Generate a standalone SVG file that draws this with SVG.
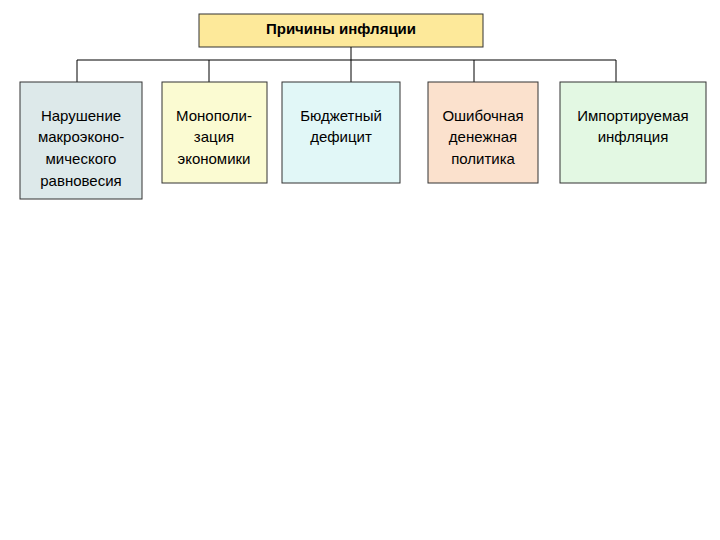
<svg xmlns="http://www.w3.org/2000/svg" width="720" height="540" viewBox="0 0 720 540">
<style>
.b{stroke:#333;stroke-width:1}
text{font-family:"Liberation Sans",Arial,sans-serif;font-size:15px;fill:#000;text-anchor:middle}
.c{stroke:#000;stroke-width:1;fill:none}
</style>
<rect width="720" height="540" fill="#fff"/>
<g id="title"><rect class="b" x="199" y="14" width="284" height="33" fill="#fde99a"/><text x="341" y="34" font-weight="bold">Причины инфляции</text></g>
<g id="connectors">
<path class="c" d="M351 47V60M77 60H616M77 60V82M209 60V82M351 60V82M474 60V82M616 60V82"/>
</g>
<g id="n1"><rect class="b" x="20" y="82" width="122" height="117" fill="#dde9ea"/><text x="81" y="121">Нарушение</text><text x="81" y="142">макроэконо-</text><text x="81" y="164">мического</text><text x="81" y="186">равновесия</text></g>
<g id="n2"><rect class="b" x="162" y="82" width="105" height="101" fill="#fbfbd2"/><text x="214" y="121">Монополи-</text><text x="214" y="142">зация</text><text x="214" y="164">экономики</text></g>
<g id="n3"><rect class="b" x="282" y="82" width="118" height="101" fill="#e1f7f7"/><text x="341" y="121">Бюджетный</text><text x="341" y="142">дефицит</text></g>
<g id="n4"><rect class="b" x="428" y="82" width="110" height="101" fill="#fbe1cd"/><text x="483" y="121">Ошибочная</text><text x="483" y="142">денежная</text><text x="483" y="164">политика</text></g>
<g id="n5"><rect class="b" x="560" y="82" width="146" height="101" fill="#e3f8e3"/><text x="633" y="121">Импортируемая</text><text x="633" y="142">инфляция</text></g>
</svg>
